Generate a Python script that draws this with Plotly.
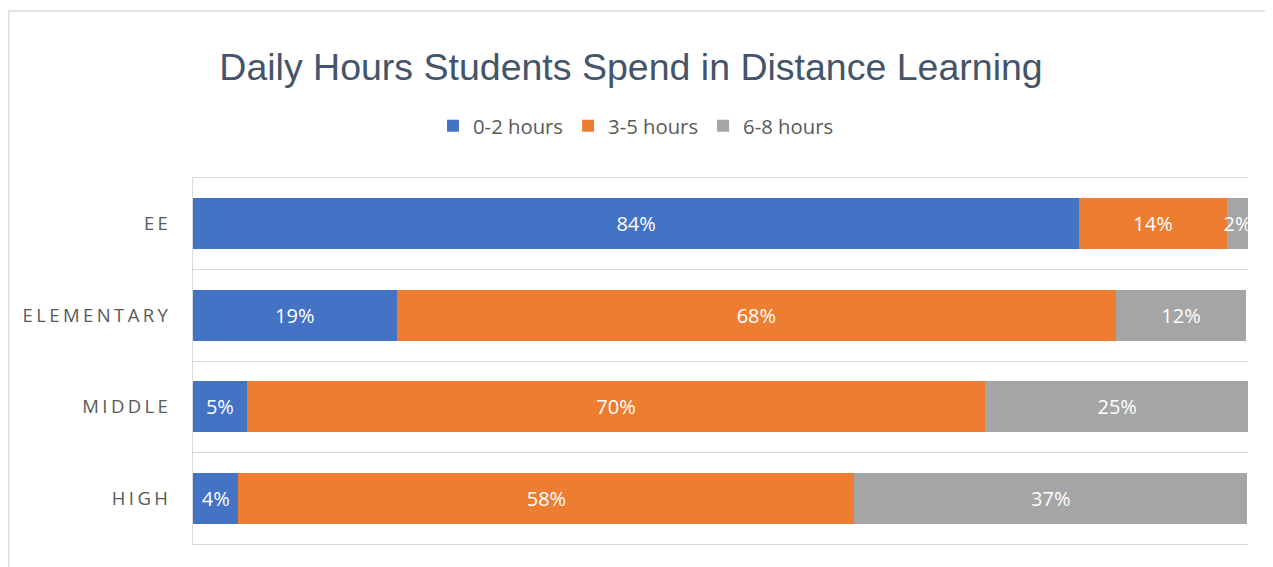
import plotly.graph_objects as go

categories = ["EE", "ELEMENTARY", "MIDDLE", "HIGH"]
series_names = ["0-2 hours", "3-5 hours", "6-8 hours"]
hours_0_2 = [84.0, 19.3, 5.1, 4.3]
hours_3_5 = [14.0, 68.2, 70.0, 58.4]
hours_6_8 = [2.0, 12.3, 25.0, 37.2]
series_values = [hours_0_2, hours_3_5, hours_6_8]
colors = ["#4472C4", "#ED7D31", "#A5A5A5"]

title_text = "Daily Hours Students Spend in Distance Learning"
label_font = "Open Sans, Lato, sans-serif"

# page body has an 8px default margin; the figure is sized so it ends at the window edge
OFF = 8
W, H = 1273 - OFF, 567 - OFF

fig = go.Figure()
for name, vals, col in zip(series_names, series_values, colors):
    fig.add_trace(go.Bar(
        y=categories, x=vals, name=name, orientation="h",
        marker=dict(color=col, line=dict(width=0)),
        texttemplate="%{x:.0f}%", textposition="inside",
        insidetextanchor="middle", textangle=0, constraintext="none",
        insidetextfont=dict(family=label_font, size=20, color="white"),
        hoverinfo="skip",
    ))

fig.update_layout(
    width=W, height=H, autosize=False,
    barmode="stack", bargap=0.44,
    paper_bgcolor="white", plot_bgcolor="white",
    margin=dict(l=193 - OFF, r=25, t=178 - OFF, b=23, pad=0),
    title=dict(
        text=title_text, xref="container", yref="container",
        x=(631 - OFF) / W, xanchor="center", y=1 - (67 - OFF) / H, yanchor="middle",
        font=dict(family="Liberation Sans, Arial, sans-serif", size=37.5, color="#44546A"),
    ),
    legend=dict(
        orientation="h", traceorder="normal",
        x=0.2275, xanchor="left", y=1.142, yanchor="middle",
        font=dict(family=label_font, size=20.3, color="#595959"),
        bgcolor="rgba(0,0,0,0)",
    ),
    uniformtext=dict(minsize=20, mode="show"),
    xaxis=dict(
        range=[0, 100], showgrid=False, zeroline=False, showticklabels=False,
        ticks="", showline=True, mirror=True, linecolor="#D9D9D9", linewidth=1,
    ),
    yaxis=dict(
        type="category", autorange="reversed",
        tickvals=categories,
        ticktext=[f'<span style="letter-spacing:3.4px">{c}</span>' for c in categories],
        tickson="boundaries", ticks="",
        showgrid=True, gridcolor="#D9D9D9", gridwidth=1,
        showline=True, linecolor="#D9D9D9", linewidth=1, zeroline=False,
        tickfont=dict(family=label_font, size=18.5, color="#595959"),
        ticklabelstandoff=17,
    ),
    shapes=[dict(
        type="rect", xref="paper", yref="paper",
        x0=(OFF + 0.8 - 193) / 1055, x1=1.6, y0=-0.6, y1=(544 - 11) / 366,
        line=dict(color="#D9D9D9", width=1.3), fillcolor="rgba(0,0,0,0)", layer="below",
    )],
)

fig.write_html("out.html")
